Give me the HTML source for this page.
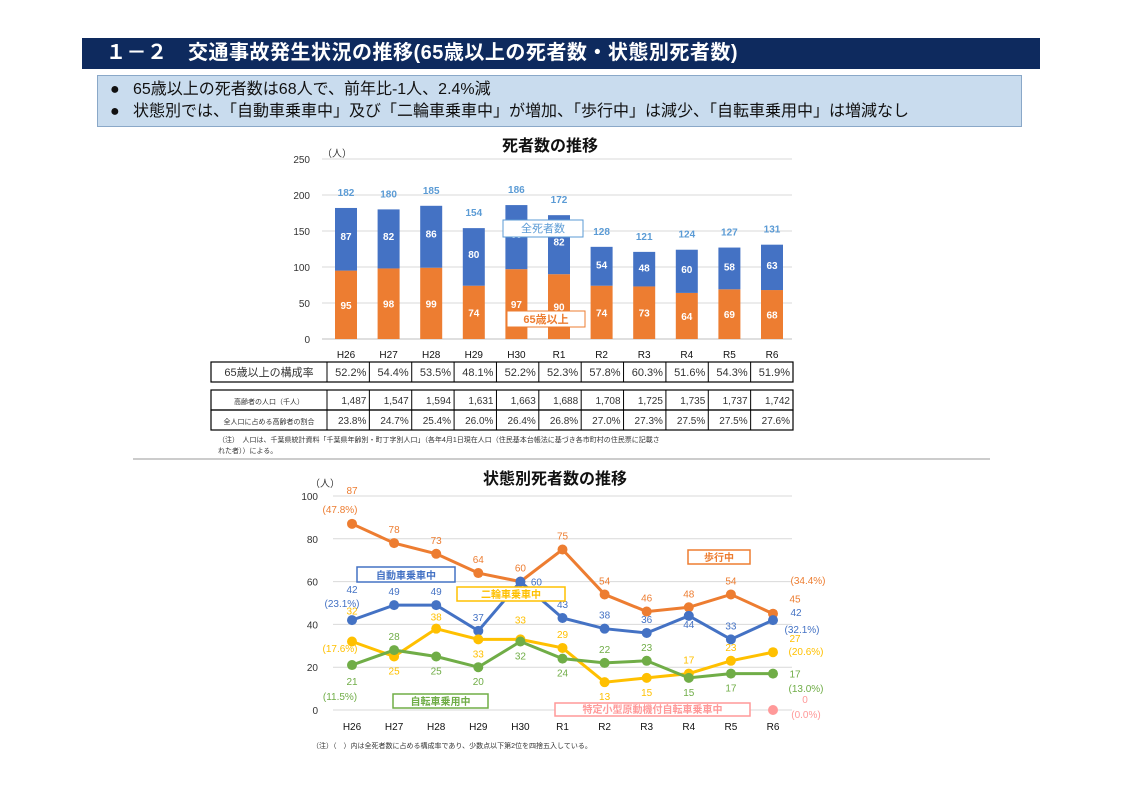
<!DOCTYPE html>
<html><head><meta charset="utf-8">
<style>
body{margin:0;width:1123px;height:794px;background:#fff;position:relative;overflow:hidden;font-family:"Liberation Sans","Noto Sans CJK JP",sans-serif;}
.abs{position:absolute;}
#hdr{left:82px;top:38px;width:958px;height:31px;background:#0e2a5e;color:#fff;font-size:20px;font-weight:bold;line-height:31px;padding-left:24px;box-sizing:border-box;letter-spacing:0.5px;}
#sum{left:97px;top:75px;width:925px;height:52px;background:#c9dcee;border:1px solid #8aa8c8;box-sizing:border-box;font-size:16px;line-height:22px;padding:3px 0 0 12px;color:#111;}
svg text{font-family:"Liberation Sans","Noto Sans CJK JP",sans-serif;}
</style></head><body>
<div id="hdr" class="abs">１－２　交通事故発生状況の推移(65歳以上の死者数・状態別死者数)</div>
<div id="sum" class="abs">
<div>●&nbsp;&nbsp;&nbsp;65歳以上の死者数は68人で、前年比-1人、2.4%減</div>
<div>●&nbsp;&nbsp;&nbsp;状態別では、「自動車乗車中」及び「二輪車乗車中」が増加、「歩行中」は減少、「自転車乗用中」は増減なし</div>
</div>
<svg class="abs" style="left:0;top:0" width="1123" height="794" id="svg"></svg>
<script>
const years=["H26","H27","H28","H29","H30","R1","R2","R3","R4","R5","R6"];
const elderly=[95,98,99,74,97,90,74,73,64,69,68];
const younger=[87,82,86,80,89,82,54,48,60,58,63];
const totals=[182,180,185,154,186,172,128,121,124,127,131];
const ratio=["52.2%","54.4%","53.5%","48.1%","52.2%","52.3%","57.8%","60.3%","51.6%","54.3%","51.9%"];
const pop=["1,487","1,547","1,594","1,631","1,663","1,688","1,708","1,725","1,735","1,737","1,742"];
const popShare=["23.8%","24.7%","25.4%","26.0%","26.4%","26.8%","27.0%","27.3%","27.5%","27.5%","27.6%"];
const yTicks1=[0,50,100,150,200,250];
const walk=[87,78,73,64,60,75,54,46,48,54,45];
const car=[42,49,49,37,60,43,38,36,44,33,42];
const moto=[32,25,38,33,33,29,13,15,17,23,27];
const bike=[21,28,25,20,32,24,22,23,15,17,17];
const ebikeVal=[0];
const yTicks2=[0,20,40,60,80,100];

const NS="http://www.w3.org/2000/svg";
const svg=document.getElementById('svg');
function mk(t,a,txt){const e=document.createElementNS(NS,t);for(const k in a)e.setAttribute(k,a[k]);if(txt!==undefined)e.textContent=txt;svg.appendChild(e);return e;}

const x1=i=>346+i*42.6, y1=v=>339-v*0.72;
let t=mk('text',{x:550,y:151,'font-size':16,'font-weight':'bold','text-anchor':'middle',fill:'#111'},'死者数の推移');

t=mk('text',{x:322,y:157,'font-size':10,fill:'#333'},'（人）');

yTicks1.forEach(v=>{
 let l=mk('line',{x1:322,x2:792,y1:y1(v),y2:y1(v),stroke:v?'#d9d9d9':'#bfbfbf','stroke-width':1});
 
 let tx=mk('text',{x:310,y:y1(v)+4,'font-size':10,'text-anchor':'end',fill:'#333'},v);
 
});
years.forEach((yr,i)=>{
 const cx=x1(i),w=22;
 let r=mk('rect',{x:cx-w/2,y:y1(elderly[i]),width:w,height:elderly[i]*0.72,fill:'#ed7d31'});
 
 r=mk('rect',{x:cx-w/2,y:y1(elderly[i]+younger[i]),width:w,height:younger[i]*0.72,fill:'#4472c4'});
 
 let a=mk('text',{x:cx,y:y1(elderly[i]/2)+4,'font-size':10,'font-weight':'bold','text-anchor':'middle',fill:'#fff'},elderly[i]);
 
 a=mk('text',{x:cx,y:y1(elderly[i]+younger[i]*0.55)+4,'font-size':10,'font-weight':'bold','text-anchor':'middle',fill:'#fff'},younger[i]);
 
 a=mk('text',{x:cx,y:y1(totals[i])-12,'font-size':10,'font-weight':'bold','text-anchor':'middle',fill:'#5b9bd5'},totals[i]);
 
 a=mk('text',{x:cx,y:358,'font-size':10,'text-anchor':'middle',fill:'#111'},yr);
 
});
let b=mk('rect',{x:503,y:220,width:80,height:17,fill:'#fff',stroke:'#5b9bd5','stroke-width':1});

t=mk('text',{x:543,y:232,'font-size':11,'text-anchor':'middle',fill:'#5b9bd5'},'全死者数');

b=mk('rect',{x:507,y:311,width:78,height:16,fill:'#fff',stroke:'#ed7d31','stroke-width':1});

t=mk('text',{x:546,y:323,'font-size':11,'font-weight':'bold','text-anchor':'middle',fill:'#ed7d31'},'65歳以上');


const tl=211,fc=116,cw=(793-tl-fc)/11;
function row(y,h,label,vals,fs,lfs,nm){
 let r=mk('rect',{x:tl,y:y,width:793-tl,height:h,fill:'none',stroke:'#000','stroke-width':1.2});
 
 let l=mk('text',{x:tl+fc/2,y:y+h/2+4,'font-size':lfs,'text-anchor':'middle',fill:'#333'},label);
 
 vals.forEach((v,i)=>{
  let ln=mk('line',{x1:tl+fc+i*cw,x2:tl+fc+i*cw,y1:y,y2:y+h,stroke:'#000','stroke-width':1});
  
  let c=mk('text',{x:tl+fc+(i+1)*cw-3,y:y+h/2+4,'font-size':fs,'text-anchor':'end',fill:'#333'},v);
  
 });
}
row(362,20,'65歳以上の構成率',ratio,11,11,'ratio-row');
row(390,20,'高齢者の人口（千人）',pop,10,7,'population-row');
row(410,20,'全人口に占める高齢者の割合',popShare,10,7,'population-share-row');
t=mk('text',{x:218,y:442,'font-size':7,fill:'#333'},'（注）　人口は、千葉県統計資料「千葉県年齢別・町丁字別人口」（各年4月1日現在人口（住民基本台帳法に基づき各市町村の住民票に記載さ');

t=mk('text',{x:218,y:453,'font-size':7,fill:'#333'},'れた者））による。');

let sep=mk('line',{x1:133,x2:990,y1:459,y2:459,stroke:'#999','stroke-width':1});


const x2=i=>352+i*42.1, y2=v=>710-v*2.14;
t=mk('text',{x:555,y:484,'font-size':16,'font-weight':'bold','text-anchor':'middle',fill:'#111'},'状態別死者数の推移');

t=mk('text',{x:310,y:487,'font-size':10,fill:'#333'},'（人）');

yTicks2.forEach(v=>{
 let l=mk('line',{x1:333,x2:792,y1:y2(v),y2:y2(v),stroke:'#d9d9d9','stroke-width':1});
 
 let tx=mk('text',{x:318,y:y2(v)+4,'font-size':10,'text-anchor':'end',fill:'#333'},v);
 
});
years.forEach((yr,i)=>{
 let a=mk('text',{x:x2(i),y:730,'font-size':10,'text-anchor':'middle',fill:'#111'},yr);
 
});
function series(vals,col,nm,dy,dx){
 const p=mk('polyline',{points:vals.map((v,i)=>x2(i)+','+y2(v)).join(' '),fill:'none',stroke:col,'stroke-width':3});
 
 vals.forEach((v,i)=>{
  let c=mk('circle',{cx:x2(i),cy:y2(v),r:5,fill:col});
  
  let tx=mk('text',{x:x2(i)+dx[i],y:y2(v)+dy[i],'font-size':10,'text-anchor':'middle',fill:col},v);
  
 });
}
series(walk,'#ed7d31','walking',[-30,-10,-10,-10,-10,-10,-10,-10,-10,-10,-11],[0,0,0,0,0,0,0,0,0,0,22]);
series(car,'#4472c4','car',[-27,-10,-10,-10,4,-10,-10,-10,12,-10,-4],[0,0,0,0,16,0,0,0,0,0,23]);
series(moto,'#ffc000','motorcycle',[-27,18,-8,18,-16,-10,18,18,-10,-10,-10],[0,0,0,0,0,0,0,0,0,0,22]);
series(bike,'#70ad47','bicycle',[20,-10,18,18,18,18,-10,-10,18,18,4],[0,0,0,0,0,0,0,0,0,0,22]);
ebikeVal.forEach(v=>{
 let c=mk('circle',{cx:x2(10),cy:y2(v),r:5,fill:'#ff9999'});
 
 let tx=mk('text',{x:x2(10)+32,y:y2(v)-7,'font-size':10,'text-anchor':'middle',fill:'#ff9999'},v);
 
});
const pcts=[[340,513,'(47.8%)','#ed7d31'],[342,607,'(23.1%)','#4472c4'],[340,652,'(17.6%)','#ffc000'],[340,700,'(11.5%)','#70ad47'],[808,584,'(34.4%)','#ed7d31'],[802,633,'(32.1%)','#4472c4'],[806,655,'(20.6%)','#ffc000'],[806,692,'(13.0%)','#70ad47'],[806,718,'(0.0%)','#ff9999']];
pcts.forEach(p=>{let tx=mk('text',{x:p[0],y:p[1],'font-size':10,'text-anchor':'middle',fill:p[3]},p[2]);
 });
const leg=[[357,567,98,15,'#4472c4','自動車乗車中'],[457,587,108,14,'#ffc000','二輪車乗車中'],[688,550,62,14,'#ed7d31','歩行中'],[393,694,95,14,'#70ad47','自転車乗用中'],[555,703,195,13,'#ff9999','特定小型原動機付自転車乗車中']];
leg.forEach(l=>{
 let r=mk('rect',{x:l[0],y:l[1],width:l[2],height:l[3],fill:'#fff',stroke:l[4],'stroke-width':1.5});
 
 let tx=mk('text',{x:l[0]+l[2]/2,y:l[1]+l[3]-3,'font-size':10,'font-weight':'bold','text-anchor':'middle',fill:l[4]},l[5]);
 
});
t=mk('text',{x:312,y:748,'font-size':7,fill:'#333'},'（注）（　）内は全死者数に占める構成率であり、少数点以下第2位を四捨五入している。');

</script>
</body></html>
